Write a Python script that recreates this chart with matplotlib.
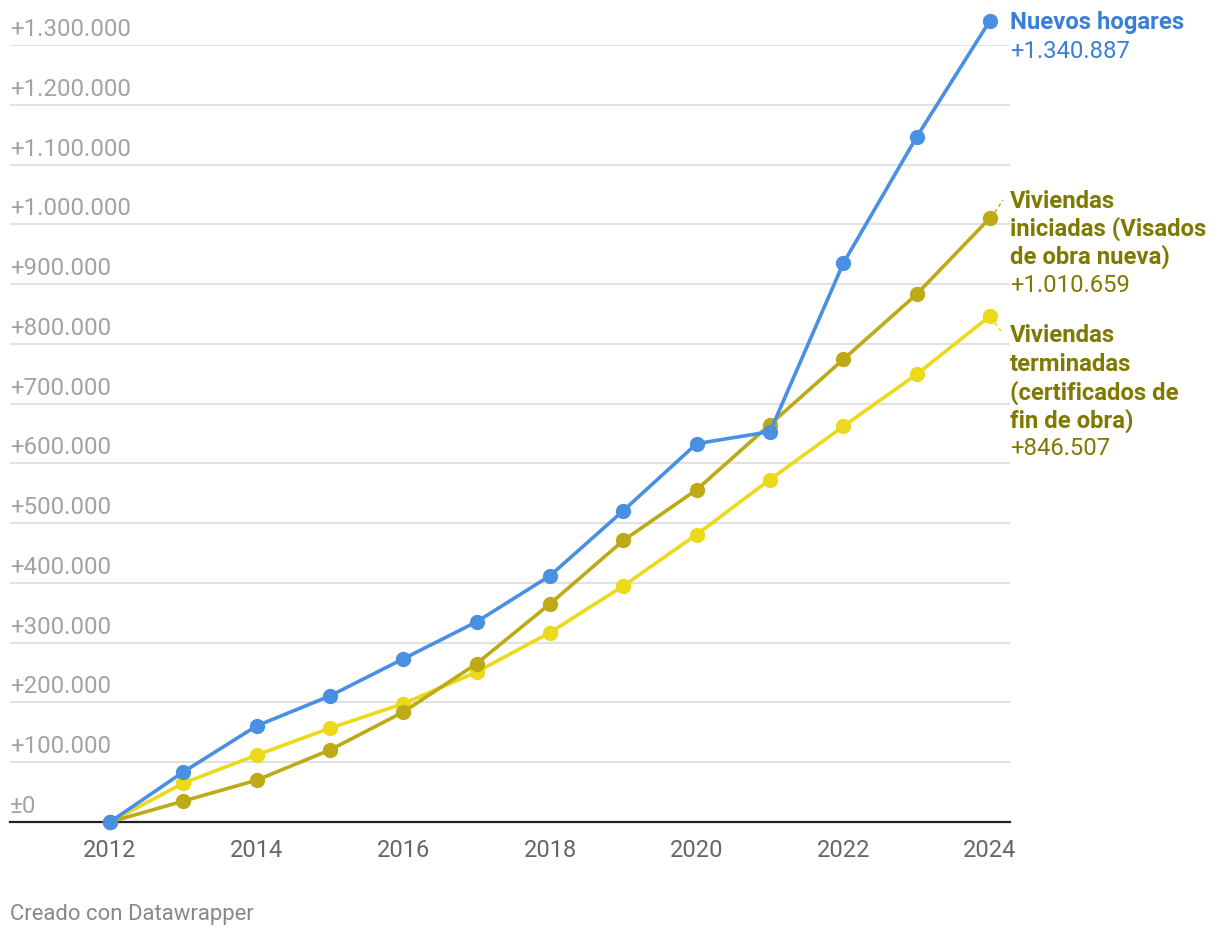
import matplotlib.pyplot as plt
import matplotlib.transforms as mtransforms

plt.rcParams['font.family'] = ['Roboto', 'DejaVu Sans']

# data
years = [2012, 2013, 2014, 2015, 2016, 2017, 2018, 2019, 2020, 2021, 2022, 2023, 2024]
nuevos_hogares = [0, 83700, 160800, 211000, 273000, 335000, 412000, 521000, 633000, 653000, 935000, 1146000, 1340887]
viv_iniciadas = [0, 35000, 70000, 120600, 184000, 265000, 365000, 471000, 556000, 665000, 774000, 883000, 1010659]
viv_terminadas = [0, 65000, 112000, 157000, 198000, 251000, 317000, 395000, 481000, 573000, 662000, 749000, 846507]

y_ticks = [0, 100000, 200000, 300000, 400000, 500000, 600000, 700000, 800000, 900000,
           1000000, 1100000, 1200000, 1300000]
x_ticks = [2012, 2014, 2016, 2018, 2020, 2022, 2024]

blue = '#4a90e2'
olive = '#bdaa16'
yellow = '#ecd91a'
blue_txt = '#3a7fd6'
olive_txt = '#7f7900'


def fmt(v):
    if v == 0:
        return '±0'
    return '+' + f'{v:,}'.replace(',', '.')


fig = plt.figure(figsize=(12.2, 9.38), dpi=100)
ax = fig.add_axes([10 / 1220, 116 / 938, 1000 / 1220, 777 / 938])
ax.set_xlim(2012 - 100 / 73.333, 2024 + 20 / 73.333)
ax.set_ylim(0, 1300000)
for s in ax.spines.values():
    s.set_visible(False)
ax.set_yticks([])
ax.set_xticks(x_ticks)
ax.set_xticklabels([str(x) for x in x_ticks])
ax.tick_params(axis='x', length=0, pad=12, labelsize=17, labelcolor='#666666')

# gridlines and y labels
trans = mtransforms.blended_transform_factory(ax.transAxes, ax.transData)
lab_trans = mtransforms.offset_copy(trans, fig=fig, x=0, y=9, units='dots')
for v in y_ticks:
    if v == 0:
        ax.axhline(0, color='#222222', lw=1.6, zorder=1, clip_on=False)
    else:
        ax.axhline(v, color='#e2e2e2', lw=1.5, zorder=0)
    ax.text(0, v, fmt(v), transform=lab_trans, fontsize=17.3, color='#a3a3a3',
            ha='left', va='baseline')

# lines
series = [(viv_terminadas, yellow), (viv_iniciadas, olive), (nuevos_hogares, blue)]
for vals, col in series:
    ax.plot(years, vals, color=col, lw=2.6, marker='o', ms=10, zorder=3, clip_on=False)


# end labels
def label(x_px, y_px, txt, col, bold):
    fig.text(x_px / 1220, 1 - y_px / 938, txt, color=col, fontsize=17.2,
             fontweight='bold' if bold else 'normal', ha='left', va='center')


label(1010, 23, 'Nuevos hogares', blue_txt, True)
label(1010, 51, fmt(nuevos_hogares[-1]), blue_txt, False)

for i, t in enumerate(['Viviendas', 'iniciadas (Visados', 'de obra nueva)']):
    label(1010, 201 + 28 * i, t, olive_txt, True)
label(1010, 285, fmt(viv_iniciadas[-1]), olive_txt, False)

for i, t in enumerate(['Viviendas', 'terminadas', '(certificados de', 'fin de obra)']):
    label(1010, 336 + 28.2 * i, t, olive_txt, True)
label(1010, 448, fmt(viv_terminadas[-1]), olive_txt, False)

# leader lines
fig.add_artist(plt.Line2D([995 / 1220, 1003 / 1220], [1 - 212 / 938, 1 - 200 / 938],
                          color=olive, lw=1.2, ls=(0, (2, 2))))
fig.add_artist(plt.Line2D([995 / 1220, 1003 / 1220], [1 - 323 / 938, 1 - 334 / 938],
                          color=yellow, lw=1.2, ls=(0, (2, 2))))

fig.text(10 / 1220, 1 - 914 / 938, 'Creado con Datawrapper', fontsize=15.9,
         color='#888888', ha='left', va='center')

fig.savefig('out.png', dpi=100)
